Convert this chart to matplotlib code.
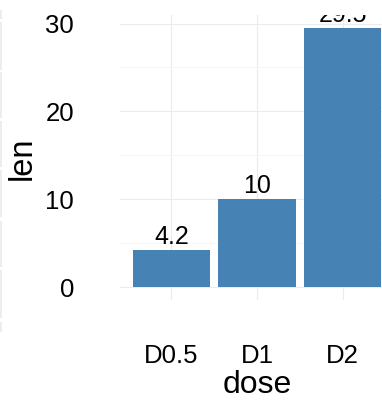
import matplotlib as mlp
mlp.use("Agg")
import matplotlib.pyplot as plt
import numpy as np

dose = ["D0.5", "D1", "D2"]
length = [4.2, 10, 29.5]
bar_labels = ["4.2", "10", "29.5"]
y_ticks = [0, 10, 20, 30]
y_minor = [5, 15, 25]

plt.rcParams['font.family'] = ['Liberation Sans', 'DejaVu Sans']

W, H = 382, 401
fig = plt.figure(figsize=(W / 100, H / 100), dpi=100)
# panel is cut off on the right, as in the reference
ax = fig.add_axes([120 / W, 1 - 300 / H, 274 / W, 285 / H])

x = np.arange(len(dose))
ax.bar(x, length, width=0.9, color="#4682b4", zorder=2)
for xi, v, s in zip(x, length, bar_labels):
    ax.annotate(s, (xi, v), xytext=(0, 4.5), textcoords="offset points",
                ha="center", va="baseline", fontsize=18, clip_on=True,
                annotation_clip=True)

ax.set_xlim(-0.6, 2.6)
ax.set_ylim(-1.475, 30.975)
ax.set_xticks(x)
ax.set_xticklabels(dose)
ax.set_yticks(y_ticks)
ax.set_yticks(y_minor, minor=True)
ax.grid(True, which="major", color="#ebebeb", lw=0.8, zorder=0)
ax.grid(True, which="minor", axis="y", color="#f4f4f4", lw=0.6, zorder=0)
ax.set_axisbelow(True)
for sp in ax.spines.values():
    sp.set_visible(False)
ax.tick_params(axis="both", which="both", length=0, labelsize=18.5)
ax.tick_params(axis="y", pad=33)
ax.tick_params(axis="x", pad=32)

fig.text(257 / W, 1 - 393 / H, "dose", ha="center", va="baseline", fontsize=23)
fig.text(22 / W, 1 - 158 / H, "len", ha="center", va="center", rotation=90, fontsize=23.5)

# faint edge of the neighbouring panel at the far left
for y0, y1 in [(10, 19), (22, 70), (72, 118), (121, 167), (170, 217), (221, 267), (270, 318), (322, 332)]:
    fig.patches.append(plt.Rectangle((0, 1 - y1 / H), 2 / W, (y1 - y0) / H,
                                     transform=fig.transFigure, color="#ededed", lw=0))

plt.savefig("out.png", dpi=100)
